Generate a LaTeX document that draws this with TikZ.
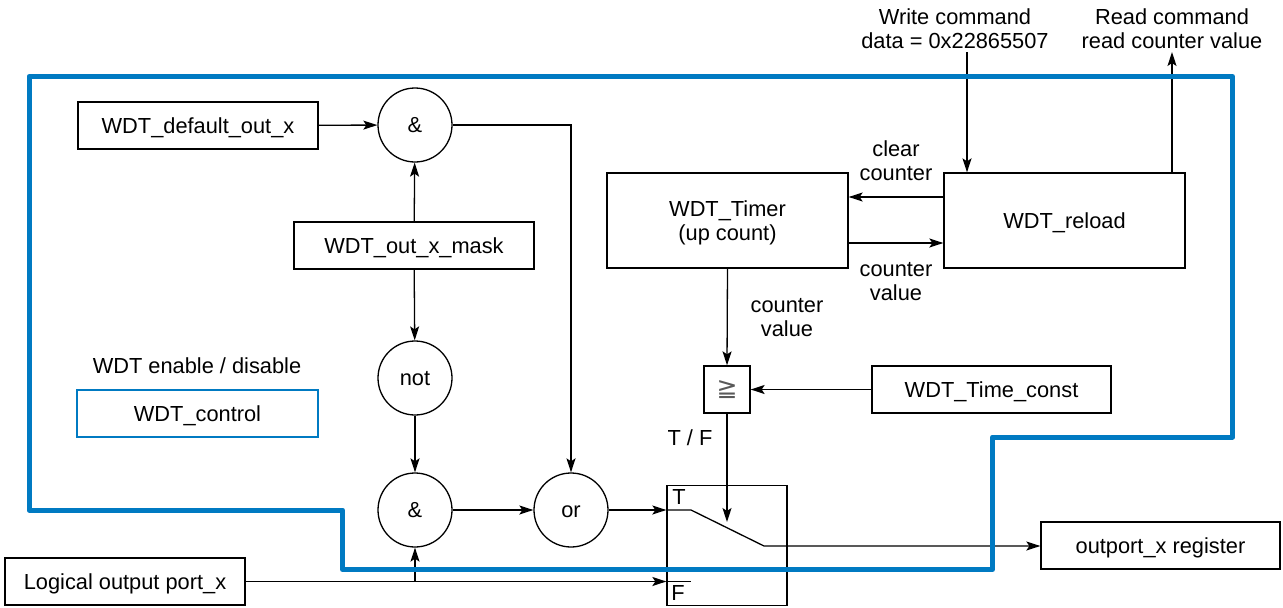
\documentclass[tikz,border=0pt]{standalone}
\usepackage{fontspec}
\setmainfont{Liberation Sans}
\newfontfamily\symfont{DejaVu Sans}
\usetikzlibrary{arrows.meta}
\definecolor{wdtblue}{RGB}{0,122,194}
\begin{document}
\begin{tikzpicture}[x=1pt,y=-1pt,
  every node/.style={font=\fontsize{21.8}{24}\selectfont},
  one/.style={text height=17.5pt, text depth=2pt},
  box/.style={draw, line width=1.3pt, minimum width=240pt, minimum height=47pt, inner sep=0pt, align=center},
  gate/.style={draw, circle, line width=1.3pt, minimum size=74pt, inner sep=0pt, one},
  conn/.style={line width=1.3pt},
  arr/.style={conn, -{Stealth[length=14pt,width=9pt,inset=3pt]}},
  lbl/.style={align=center, inner sep=0pt}]
\useasboundingbox (0,0) rectangle (1283,608);

% nodes
\node[box, one] (def) at (198,125.5) {WDT\_default\_out\_x};
\node[gate] (and1) at (415,125) {\&};
\node[box, one] (mask) at (414,245.5) {WDT\_out\_x\_mask};
\node[gate] (not) at (415,378) {not};
\node[gate] (and2) at (415,510) {\&};
\node[gate] (or) at (571,510) {or};
\node[lbl] (en) at (197,366) {WDT enable / disable};
\node[box, one, draw=wdtblue, line width=2.5pt, minimum width=241pt] (ctl) at (197.5,413.5) {WDT\_control};
\node[box, minimum width=241pt, minimum height=95pt,
      label={[lbl, yshift=-2pt]center:{WDT\_Timer\\(up count)}}] (timer) at (727.5,220.5) {};
\node[box, one, minimum width=241pt, minimum height=95pt] (reload) at (1064.5,220.5) {WDT\_reload};
\node[lbl] (clr) at (896,161) {clear\\counter};
\node[lbl] (cv1) at (896,282) {counter\\value};
\node[lbl] (wr) at (955,29) {Write command\\data = 0x22865507};
\node[lbl] (rd) at (1172,29) {Read command\\read counter value};
\node[box, minimum width=46pt] (cmp) at (727,389.5) {\symfont\fontsize{25}{26}\selectfont\color{black!65}≧};
\node[lbl] (cv2) at (787,318) {counter\\value};
\node[box, one, minimum width=239pt] (tc) at (991.5,389.5) {WDT\_Time\_const};
\node[lbl] (tf) at (690,438) {T / F};
\node[draw, conn, minimum width=120pt, minimum height=120pt, inner sep=0pt] (sw) at (727,545.5) {};
\node[lbl] (T) at (679,497) {T};
\node[lbl] (F) at (678,593) {F};
\node[box, one, minimum width=239pt] (outp) at (1160.5,545.5) {outport\_x register};
\node[box, one] (log) at (125,581.5) {Logical output port\_x};

% helper coordinates
\coordinate (t1) at (691,510);
\coordinate (t2) at (764,546);
\coordinate (f1) at (691,581.5);
\coordinate (tip) at (727,522);
\coordinate (wtop) at (967,52);
\coordinate (rtop) at (1172,52);

% connectors
\draw[arr] (def) -- (and1);
\draw[arr] (mask) -- (and1);
\draw[arr] (mask) -- (not);
\draw[arr] (not) -- (and2);
\draw[arr] (and2) -- (or);
\draw[arr] (and1.east) -| (or.north);
\draw[arr] (or.east) -- (or.east -| sw.west);
\draw[arr] (or.east -| sw.west) -- (t1) -- (t2) -- (t2 -| outp.west);
\draw[arr] (log.east) -- (log.east -| sw.west);
\draw[conn] (log.east -| sw.west) -- (f1);
\draw[arr] (and2.south |- log.east) -- (and2.south);
\draw[arr] (timer.south) -- (cmp.north);
\draw[arr] (tc) -- (cmp);
\draw[arr] (cmp.south) -- (tip);
\draw[arr] ([yshift=23.5pt]reload.west) -- ([yshift=23.5pt]reload.west -| timer.east);
\draw[arr] ([yshift=-22.5pt]timer.east) -- ([yshift=-22.5pt]timer.east -| reload.west);
\draw[arr] (wtop) -- (wtop |- reload.north);
\draw[arr] (rtop |- reload.north) -- (rtop);

% blue outline
\draw[wdtblue, line width=5pt, line join=round]
  (29,76.5) -- (1232.5,76.5) -- (1232.5,437) -- (992.5,437) -- (992.5,569.5)
  -- (342.5,569.5) -- (342.5,510) -- (29,510) -- cycle;
\end{tikzpicture}
\end{document}
